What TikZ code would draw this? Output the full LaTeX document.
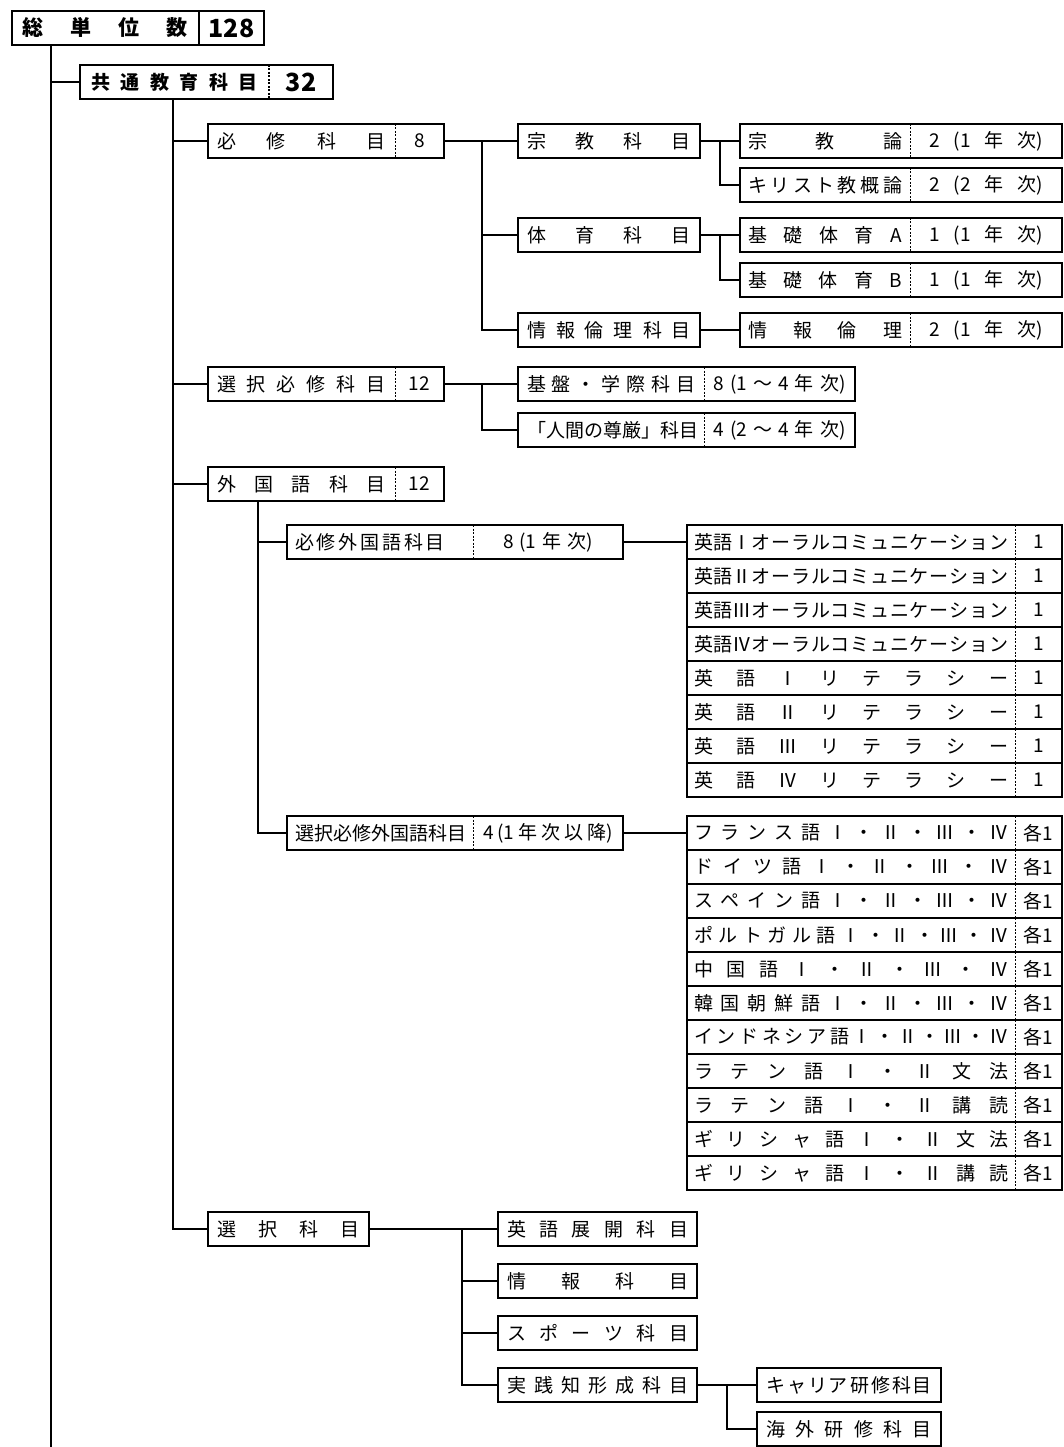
\documentclass[tikz,border=0pt]{standalone}
\usepackage{fontspec}
\newfontfamily\jpfont{Noto Sans CJK JP}
\usetikzlibrary{positioning,fit}
\newcommand{\spreadtext}[2]{\makebox[#1pt][s]{\spaceskip=0pt plus 1fil\xspaceskip=0pt plus 1fil\relax #2}}

\begin{document}
\begin{tikzpicture}[
  x=1pt, y=-1pt,
  every node/.style={font=\jpfont\fontsize{19}{22}\selectfont},
  cell/.style={anchor=north west, minimum height=34, inner sep=0, outer sep=0},
  box/.style={cell, draw, line width=1.1pt},
  frame/.style={draw, line width=1.1pt, inner sep=0, outer sep=0},
  split/.style={line width=0.8pt, dash pattern=on 2pt off 1.5pt},
  link/.style={line width=1.1pt},
  spine/.style={line width=1.9pt}
]
  \useasboundingbox (0,0) rectangle (1064,1447);

  % Total and common education
  \node[cell, minimum width=187] (total) at (12,11) {\bfseries\fontsize{21}{24}\selectfont\spreadtext{165}{総 単 位 数}};
  \node[cell, minimum width=65, right=0pt of total] (total-n) {\bfseries\fontsize{25}{27}\selectfont 128};
  \node[frame, line width=2pt, fit=(total)(total-n)] (total-box) {};
  \draw[line width=1.4pt] (total.north east) -- (total.south east);

  \node[cell, minimum width=189] (kyotsu) at (80,65) {\bfseries\fontsize{19}{22}\selectfont\spreadtext{167}{共 通 教 育 科 目}};
  \node[cell, minimum width=64, right=0pt of kyotsu] (kyotsu-n) {\bfseries\fontsize{25}{27}\selectfont 32};
  \node[frame, line width=1.8pt, fit=(kyotsu)(kyotsu-n)] (kyotsu-box) {};
  \draw[split, line width=1.4pt] (kyotsu.north east) -- (kyotsu.south east);

  % Level 2
  \node[cell, minimum width=187] (hisshu) at (208,124) {\spreadtext{169}{必 修 科 目}};
  \node[cell, minimum width=49, right=0pt of hisshu] (hisshu-n) {8};
  \node[frame, fit=(hisshu)(hisshu-n)] (hisshu-box) {};
  \draw[split] (hisshu.north east) -- (hisshu.south east);

  \node[cell, minimum width=187] (sentakuhisshu) at (208,367) {\spreadtext{169}{選 択 必 修 科 目}};
  \node[cell, minimum width=49, right=0pt of sentakuhisshu] (sentakuhisshu-n) {12};
  \node[frame, fit=(sentakuhisshu)(sentakuhisshu-n)] (sentakuhisshu-box) {};
  \draw[split] (sentakuhisshu.north east) -- (sentakuhisshu.south east);

  \node[cell, minimum width=187] (gaikokugo) at (208,467) {\spreadtext{169}{外 国 語 科 目}};
  \node[cell, minimum width=49, right=0pt of gaikokugo] (gaikokugo-n) {12};
  \node[frame, fit=(gaikokugo)(gaikokugo-n)] (gaikokugo-box) {};
  \draw[split] (gaikokugo.north east) -- (gaikokugo.south east);

  \node[box, minimum width=161] (sentaku) at (208,1212) {\spreadtext{143}{選 択 科 目}};

  % Required subjects
  \node[box, minimum width=182] (shukyo) at (518,124) {\spreadtext{164}{宗 教 科 目}};
  \node[box, minimum width=182] (taiiku) at (518,218) {\spreadtext{164}{体 育 科 目}};
  \node[box, minimum width=182] (johorinri) at (518,313) {\spreadtext{164}{情 報 倫 理 科 目}};

  \node[cell, minimum width=170] (shukyoron) at (740,124) {\spreadtext{154}{宗 教 論}};
  \node[cell, minimum width=152, right=0pt of shukyoron] (shukyoron-n) {\spreadtext{114}{2 (1 年 次)}};
  \node[frame, fit=(shukyoron)(shukyoron-n)] (shukyoron-box) {};
  \draw[split] (shukyoron.north east) -- (shukyoron.south east);

  \node[cell, minimum width=170] (kirisuto) at (740,168) {\spreadtext{154}{キ リ ス ト 教 概 論}};
  \node[cell, minimum width=152, right=0pt of kirisuto] (kirisuto-n) {\spreadtext{114}{2 (2 年 次)}};
  \node[frame, fit=(kirisuto)(kirisuto-n)] (kirisuto-box) {};
  \draw[split] (kirisuto.north east) -- (kirisuto.south east);

  \node[cell, minimum width=170] (kisoA) at (740,218) {\spreadtext{154}{基 礎 体 育 A}};
  \node[cell, minimum width=152, right=0pt of kisoA] (kisoA-n) {\spreadtext{114}{1 (1 年 次)}};
  \node[frame, fit=(kisoA)(kisoA-n)] (kisoA-box) {};
  \draw[split] (kisoA.north east) -- (kisoA.south east);

  \node[cell, minimum width=170] (kisoB) at (740,263) {\spreadtext{154}{基 礎 体 育 B}};
  \node[cell, minimum width=152, right=0pt of kisoB] (kisoB-n) {\spreadtext{114}{1 (1 年 次)}};
  \node[frame, fit=(kisoB)(kisoB-n)] (kisoB-box) {};
  \draw[split] (kisoB.north east) -- (kisoB.south east);

  \node[cell, minimum width=170] (joho) at (740,313) {\spreadtext{154}{情 報 倫 理}};
  \node[cell, minimum width=152, right=0pt of joho] (joho-n) {\spreadtext{114}{2 (1 年 次)}};
  \node[frame, fit=(joho)(joho-n)] (joho-box) {};
  \draw[split] (joho.north east) -- (joho.south east);

  % Elective required subjects
  \node[cell, minimum width=186] (kiban) at (518,367) {\spreadtext{168}{基 盤 ・ 学 際 科 目}};
  \node[cell, minimum width=151, right=0pt of kiban] (kiban-n) {\spreadtext{132}{8 (1 ～ 4 年 次)}};
  \node[frame, fit=(kiban)(kiban-n)] (kiban-box) {};
  \draw[split] (kiban.north east) -- (kiban.south east);

  \node[cell, minimum width=186] (songen) at (518,413) {\spreadtext{168}{「人間の尊厳」 科 目}};
  \node[cell, minimum width=151, right=0pt of songen] (songen-n) {\spreadtext{132}{4 (2 ～ 4 年 次)}};
  \node[frame, fit=(songen)(songen-n)] (songen-box) {};
  \draw[split] (songen.north east) -- (songen.south east);

  % Foreign languages
  \node[cell, minimum width=186] (hisshugai) at (287,525) {\makebox[170pt][l]{\spreadtext{150}{必 修 外 国 語 科 目}}};
  \node[cell, minimum width=150, right=0pt of hisshugai] (hisshugai-n) {\spreadtext{90}{8 (1 年 次)}};
  \node[frame, fit=(hisshugai)(hisshugai-n)] (hisshugai-box) {};
  \draw[split] (hisshugai.north east) -- (hisshugai.south east);

  \node[cell, minimum width=186] (sentakugai) at (287,816) {\makebox[170pt][l]{選択必修外国語科目}};
  \node[cell, minimum width=150, right=0pt of sentakugai] (sentakugai-n) {\spreadtext{130}{4 (1 年 次 以 降)}};
  \node[frame, fit=(sentakugai)(sentakugai-n)] (sentakugai-box) {};
  \draw[split] (sentakugai.north east) -- (sentakugai.south east);

  \foreach \txt [count=\i from 0] in {英語Ⅰ オ ー ラ ル コ ミ ュ ニ ケ ー シ ョ ン, 英語Ⅱ オ ー ラ ル コ ミ ュ ニ ケ ー シ ョ ン,
      英語Ⅲ オ ー ラ ル コ ミ ュ ニ ケ ー シ ョ ン, 英語Ⅳ オ ー ラ ル コ ミ ュ ニ ケ ー シ ョ ン,
      英 語 Ⅰ リ テ ラ シ ー, 英 語 Ⅱ リ テ ラ シ ー, 英 語 Ⅲ リ テ ラ シ ー, 英 語 Ⅳ リ テ ラ シ ー} {
    \node[cell, minimum width=328] (eng-\i) at (687,{525+34*\i}) {\spreadtext{314}{\txt}};
    \node[cell, minimum width=47, right=0pt of eng-\i] (eng-\i-n) {1};
    \node[frame, fit=(eng-\i)(eng-\i-n)] (eng-\i-box) {};
    \draw[split] (eng-\i.north east) -- (eng-\i.south east);
  }

  \foreach \txt [count=\i from 0] in {フ ラ ン ス 語 Ⅰ ・ Ⅱ ・ Ⅲ ・ Ⅳ, ド イ ツ 語 Ⅰ ・ Ⅱ ・ Ⅲ ・ Ⅳ,
      ス ペ イ ン 語 Ⅰ ・ Ⅱ ・ Ⅲ ・ Ⅳ, ポ ル ト ガ ル 語 Ⅰ ・ Ⅱ ・ Ⅲ ・ Ⅳ, 中 国 語 Ⅰ ・ Ⅱ ・ Ⅲ ・ Ⅳ,
      韓 国 朝 鮮 語 Ⅰ ・ Ⅱ ・ Ⅲ ・ Ⅳ, イ ン ド ネ シ ア 語 Ⅰ ・ Ⅱ ・ Ⅲ ・ Ⅳ,
      ラ テ ン 語 Ⅰ ・ Ⅱ 文 法, ラ テ ン 語 Ⅰ ・ Ⅱ 講 読, ギ リ シ ャ 語 Ⅰ ・ Ⅱ 文 法, ギ リ シ ャ 語 Ⅰ ・ Ⅱ 講 読} {
    \node[cell, minimum width=328] (lang-\i) at (687,{816+34*\i}) {\spreadtext{314}{\txt}};
    \node[cell, minimum width=47, right=0pt of lang-\i] (lang-\i-n) {各1};
    \node[frame, fit=(lang-\i)(lang-\i-n)] (lang-\i-box) {};
    \draw[split] (lang-\i.north east) -- (lang-\i.south east);
  }

  % Electives
  \node[box, minimum width=199] (tenkai) at (498,1212) {\spreadtext{181}{英 語 展 開 科 目}};
  \node[box, minimum width=199] (johoka) at (498,1264) {\spreadtext{181}{情 報 科 目}};
  \node[box, minimum width=199] (sports) at (498,1316) {\spreadtext{181}{ス ポ ー ツ 科 目}};
  \node[box, minimum width=199] (jissen) at (498,1368) {\spreadtext{181}{実 践 知 形 成 科 目}};
  \node[box, minimum width=184] (career) at (757,1368) {\spreadtext{166}{キ ャ リ ア 研 修 科 目}};
  \node[box, minimum width=184] (kaigai) at (757,1412) {\spreadtext{166}{海 外 研 修 科 目}};

  % Connectors
  \coordinate (trunk) at (51,1447);
  \coordinate (spine) at (173,0);
  \coordinate (br-hisshu) at (482,0);
  \coordinate (br-l4) at (720,0);
  \coordinate (br-gai) at (258,0);
  \coordinate (br-sentaku) at (462,0);
  \coordinate (br-jissen) at (727,0);

  \draw[spine, line width=2.2pt] (trunk |- total-box.south) -- (trunk);
  \draw[link] (kyotsu-box.west) -- (kyotsu-box.west -| trunk);
  \draw[spine] (spine |- kyotsu-box.south) |- (sentaku.west);
  \foreach \n in {hisshu-box, sentakuhisshu-box, gaikokugo-box}
    \draw[link] (\n.west) -- (\n.west -| spine);

  \draw[link] (hisshu-box.east) -- (shukyo.west);
  \draw[link] (br-hisshu |- hisshu-box.east) |- (taiiku.west);
  \draw[link] (br-hisshu |- hisshu-box.east) |- (johorinri.west);
  \draw[link] (shukyo.east) -- (shukyoron-box.west);
  \draw[link] (br-l4 |- shukyo.east) |- (kirisuto-box.west);
  \draw[link] (taiiku.east) -- (kisoA-box.west);
  \draw[link] (br-l4 |- taiiku.east) |- (kisoB-box.west);
  \draw[link] (johorinri.east) -- (joho-box.west);

  \draw[link] (sentakuhisshu-box.east) -- (kiban-box.west);
  \draw[link] (br-hisshu |- kiban-box.west) |- (songen-box.west);

  \draw[link] (br-gai |- gaikokugo-box.south) |- (sentakugai-box.west);
  \draw[link] (hisshugai-box.west) -- (hisshugai-box.west -| br-gai);
  \draw[link] (hisshugai-box.east) -- (eng-0-box.west);
  \draw[link] (sentakugai-box.east) -- (lang-0-box.west);

  \draw[link] (sentaku.east) -- (tenkai.west);
  \draw[link] (br-sentaku |- sentaku.east) |- (jissen.west);
  \draw[link] (johoka.west) -- (johoka.west -| br-sentaku);
  \draw[link] (sports.west) -- (sports.west -| br-sentaku);
  \draw[link] (jissen.east) -- (career.west);
  \draw[link] (br-jissen |- jissen.east) |- (kaigai.west);
\end{tikzpicture}
\end{document}
